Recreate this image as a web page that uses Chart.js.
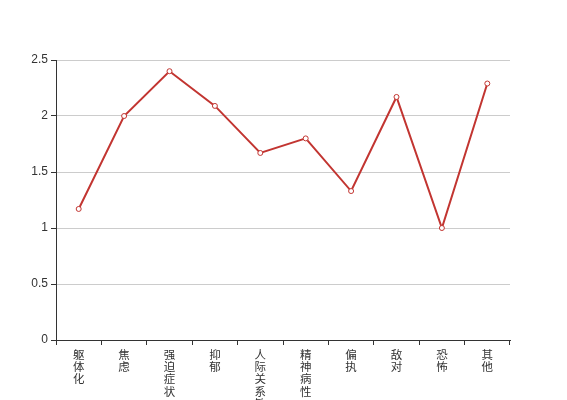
<!DOCTYPE html>
<html>
<head>
<meta charset="utf-8">
<script src="https://cdn.jsdelivr.net/npm/chart.js@4/dist/chart.umd.min.js"></script>
<style>
  html, body { margin: 0; padding: 0; background: #fff; }
  #wrap { width: 567px; height: 400px; position: relative; }
</style>
</head>
<body>
<div id="wrap"><canvas id="chart"></canvas></div>
<script>
// categories (one character per line, like the vertical labels in the picture)
const categories = ["躯体化", "焦虑", "强迫症状", "抑郁", "人际关系敏感", "精神病性", "偏执", "敌对", "恐怖", "其他"];
const scores = [1.17, 2.0, 2.4, 2.09, 1.67, 1.8, 1.33, 2.17, 1.0, 2.29];
const yTicks = [0, 0.5, 1, 1.5, 2, 2.5];

const fontFamily = "'Liberation Sans', 'Noto Sans CJK SC', sans-serif";

document.addEventListener("DOMContentLoaded", function () {
    const ctx = document.getElementById("chart");
    new Chart(ctx.getContext("2d"), {
        type: "line",
        data: {
            labels: categories.map(c => c.split("")),
            datasets: [{
                data: scores,
                borderColor: "#c23531",
                borderWidth: 2,
                backgroundColor: "#fff",
                pointBackgroundColor: "#fff",
                pointBorderColor: "#c23531",
                pointBorderWidth: 1,
                pointRadius: 2.5,
                tension: 0,
                fill: false
            }]
        },
        options: {
            responsive: true,
            maintainAspectRatio: false,
            animation: false,
            layout: { padding: { top: 60, right: 57, left: 0, bottom: 0 } },
            plugins: { legend: { display: false }, tooltip: { enabled: false } },
            scales: {
                x: {
                    offset: true,
                    grid: {
                        offset: true,
                        drawOnChartArea: false,
                        tickLength: 5,
                        tickColor: "#333",
                        color: "#333"
                    },
                    border: { color: "#333", width: 1 },
                    ticks: {
                        color: "#333",
                        padding: 3,
                        maxRotation: 0,
                        autoSkip: false,
                        font: { family: "'Noto Sans CJK SC', sans-serif", size: 11.5, lineHeight: 1.08 }
                    },
                    afterFit: function (scale) { scale.height = 60; }
                },
                y: {
                    min: 0,
                    max: 2.5,
                    afterBuildTicks: function (scale) {
                        scale.ticks = yTicks.map(v => ({ value: v }));
                    },
                    grid: {
                        color: "#ccc",
                        tickColor: "#333",
                        tickLength: 5
                    },
                    border: { color: "#333", width: 1 },
                    ticks: {
                        color: "#333",
                        padding: 3,
                        font: { family: fontFamily, size: 12 },
                        callback: function (v) { return String(v); }
                    },
                    afterFit: function (scale) { scale.width = 56; }
                }
            }
        }
    });
});
</script>
</body>
</html>
